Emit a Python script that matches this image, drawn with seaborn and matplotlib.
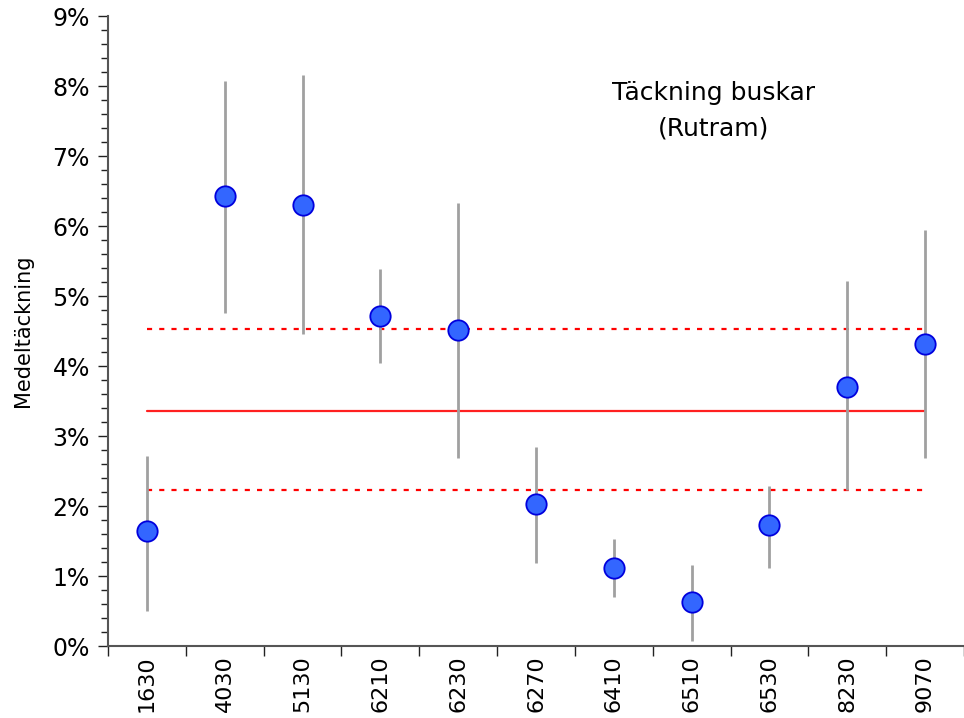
import matplotlib
matplotlib.use("Agg")
import matplotlib.pyplot as plt
import seaborn as sns
import numpy as np
import pandas as pd
from matplotlib.ticker import FixedLocator, MultipleLocator, FuncFormatter

categories = ["1630", "4030", "5130", "6210", "6230", "6270", "6410", "6510", "6530", "8230", "9070"]
means = [1.64, 6.43, 6.30, 4.71, 4.51, 2.03, 1.11, 0.63, 1.73, 3.70, 4.31]
lower = [0.50, 4.76, 4.46, 4.04, 2.69, 1.19, 0.70, 0.07, 1.11, 2.23, 2.69]
upper = [2.71, 8.07, 8.16, 5.39, 6.33, 2.84, 1.53, 1.16, 2.29, 5.21, 5.94]
overall_mean = 3.36
ci_upper = 4.53
ci_lower = 2.23
title_lines = ["Täckning buskar", "(Rutram)"]
ylabel = "Medeltäckning"

df = pd.DataFrame({"cat": categories, "x": np.arange(len(categories)),
                   "mean": means, "lo": lower, "hi": upper})

sns.set_style("white")
plt.rcParams["font.family"] = ["DejaVu Sans"]
plt.rcParams["text.color"] = "black"
plt.rcParams["axes.labelcolor"] = "black"
plt.rcParams["xtick.color"] = "black"
plt.rcParams["ytick.color"] = "black"

fig = plt.figure(figsize=(9.64, 7.18), dpi=100)
ax = fig.add_axes([108/964, 1-646/718, (964-108)/964, (646-16)/718])

ax.vlines(df["x"], df["lo"], df["hi"], color="#a0a0a0", linewidth=2, zorder=2)
n = len(categories)
ax.plot([0, n-1], [overall_mean, overall_mean], color="#ff2020", linewidth=1.6, zorder=1)
ax.plot([0, n-1.0], [ci_upper, ci_upper], color="#ff0000", linewidth=1.6, linestyle=(0, (2.3, 3.2)), zorder=1)
ax.plot([0, n-1.0], [ci_lower, ci_lower], color="#ff0000", linewidth=1.6, linestyle=(0, (2.3, 3.2)), zorder=1)

sns.scatterplot(data=df, x="x", y="mean", ax=ax, s=215, color="#3366ff",
                edgecolor="#0000dd", linewidth=1.3, zorder=3, legend=False)

ax.set_xlim(-0.5, n-0.5)
ax.set_ylim(0, 9)
ax.yaxis.set_major_locator(MultipleLocator(1))
ax.yaxis.set_minor_locator(MultipleLocator(0.2))
ax.yaxis.set_major_formatter(FuncFormatter(lambda v, p: f"{int(round(v))}%"))
ax.xaxis.set_major_locator(FixedLocator(np.arange(-0.5, n, 1.0)))
ax.xaxis.set_major_formatter(FuncFormatter(lambda v, p: ""))
ax.set_xticks(np.arange(n), labels=categories, minor=True, rotation=90, fontsize=16)
ax.tick_params(axis="x", which="minor", length=0, pad=7)
ax.tick_params(axis="x", which="major", length=7, width=1.0, direction="out", color="#222222", bottom=True)
ax.tick_params(axis="y", which="major", length=7, width=1.0, direction="out", labelsize=17, color="#222222", left=True, pad=6)
ax.tick_params(axis="y", which="minor", length=5, width=1.0, direction="out", color="#222222", left=True)

for s in ["top", "right"]:
    ax.spines[s].set_visible(False)
for s in ["left", "bottom"]:
    ax.spines[s].set_color("#555555")
    ax.spines[s].set_linewidth(1.5)

ax.set_xlabel("")
ax.set_ylabel(ylabel, fontsize=15, labelpad=14)

ax.text(0.708, 0.878, title_lines[0], transform=ax.transAxes, ha="center", va="center", fontsize=18)
ax.text(0.708, 0.822, title_lines[1], transform=ax.transAxes, ha="center", va="center", fontsize=18)

fig.savefig("out.png", dpi=100)
